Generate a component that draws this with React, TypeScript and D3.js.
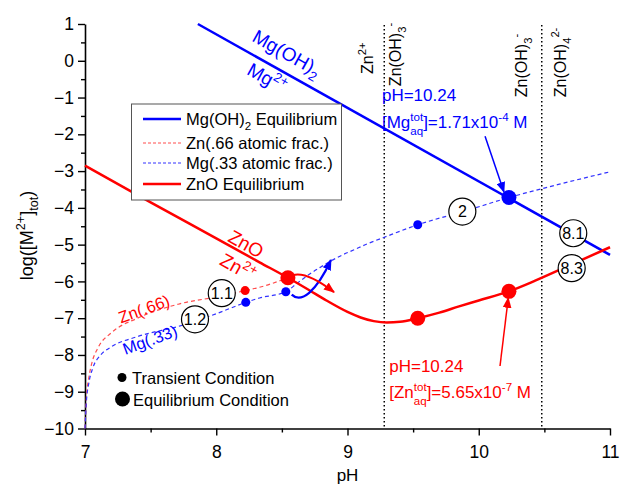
import React, { useRef, useEffect } from "react";
import * as d3 from "d3";

// all curves are [pH, log([M2+]tot)] pairs
const mgOH2Equilibrium = [
  [7.86, 1.0],
  [11.0, -5.28],
];

const znoEquilibrium = [
  [7.0, -2.85], [7.5, -3.85], [8.0, -4.83], [8.33, -5.48], [8.546, -5.9],
  [8.7, -6.22], [8.84, -6.52], [9.0, -6.83], [9.1, -6.98], [9.2, -7.08],
  [9.3, -7.12], [9.4, -7.1], [9.535, -7.0], [9.7, -6.85], [9.85, -6.68],
  [10.0, -6.52], [10.23, -6.27], [10.43, -5.98], [10.7, -5.55], [11.0, -5.07],
];

const znFraction = [
  [7.0, -10.0], [7.01, -9.2], [7.03, -8.6], [7.05, -8.25], [7.1, -7.8],
  [7.2, -7.4], [7.4, -7.0], [7.71, -6.62], [8.0, -6.42], [8.22, -6.25],
  [8.33, -6.16], [8.546, -5.9],
];

const mgFraction = [
  [7.0, -10.0], [7.01, -9.3], [7.03, -8.75], [7.06, -8.35], [7.12, -8.0],
  [7.2, -7.78], [7.4, -7.5], [7.735, -7.2], [8.0, -6.88], [8.225, -6.57],
  [8.33, -6.45], [8.53, -6.28], [8.62, -6.04], [8.72, -5.78], [8.8, -5.6],
  [8.87, -5.45], [8.95, -5.3], [9.05, -5.14], [9.15, -4.98], [9.28, -4.8],
  [9.535, -4.46], [9.9, -4.08], [10.23, -3.72], [10.6, -3.37], [11.0, -3.02],
];

const transientZn = [[8.22, -6.25]];
const transientMg = [[8.225, -6.57], [8.53, -6.28], [9.535, -4.46]];
const equilibriumZn = [[8.546, -5.9], [9.535, -7.0], [10.23, -6.27]];
const equilibriumMg = [[10.23, -3.72]];

const speciesBoundaries = [9.28, 10.48];

const xTicks = [7, 8, 9, 10, 11];
const xMinorTicks = [7.5, 8.5, 9.5, 10.5];
const yTicks = [1, 0, -1, -2, -3, -4, -5, -6, -7, -8, -9, -10];
const yMinorTicks = [0.5, -0.5, -1.5, -2.5, -3.5, -4.5, -5.5, -6.5, -7.5, -8.5, -9.5];

const stepLabels = [
  { label: "1.1", at: [8.042, -6.32] },
  { label: "1.2", at: [7.838, -7.03] },
  { label: "2", at: [9.875, -4.1] },
  { label: "8.1", at: [10.72, -4.69] },
  { label: "8.3", at: [10.708, -5.64] },
];

const FONT = "'Liberation Sans', Arial, Helvetica, sans-serif";
const BLUE = "#0000ff";
const RED = "#ff0000";

type Part = [string, string?, number?];

const addRich = (text, parts: Part[], size: number, ratio = 0.7) => {
  let shift = 0;
  parts.forEach(([t, kind, dx]) => {
    const target =
      kind === "sup" ? -0.42 * size : kind === "sub" ? (dx ? 0.42 : 0.3) * size : 0;
    const ts = text
      .append("tspan")
      .attr("dy", target - shift)
      .attr("font-size", kind ? size * ratio : size)
      .text(t);
    if (dx) ts.attr("dx", dx);
    shift = target;
  });
};

const Chart = () => {
  const svgRef = useRef(null);

  useEffect(() => {
    const svg = d3.select(svgRef.current);
    svg.selectAll("*").remove();
    svg.attr("font-family", FONT);

    const x = d3.scaleLinear().domain([7, 11]).range([85, 610]);
    const y = d3.scaleLinear().domain([-10, 1]).range([428.5, 24]);

    const defs = svg.append("defs");
    [["arrowBlue", BLUE], ["arrowRed", RED]].forEach(([id, c]) => {
      defs
        .append("marker")
        .attr("id", id)
        .attr("viewBox", "0 0 10 8")
        .attr("refX", 9)
        .attr("refY", 4)
        .attr("markerWidth", 11)
        .attr("markerHeight", 9)
        .attr("markerUnits", "userSpaceOnUse")
        .attr("orient", "auto")
        .append("path")
        .attr("d", "M0,0 L10,4 L0,8 Z")
        .attr("fill", c);
    });

    // axes
    const xAxis = svg
      .append("g")
      .attr("transform", `translate(0,${y(-10)})`)
      .call(d3.axisBottom(x).tickValues(xTicks).tickSize(7).tickSizeOuter(0).tickPadding(10).tickFormat(d3.format("d")));
    svg
      .append("g")
      .attr("transform", `translate(0,${y(-10)})`)
      .call(d3.axisBottom(x).tickValues(xMinorTicks).tickSize(4).tickSizeOuter(0).tickFormat(() => ""))
      .select(".domain")
      .remove();
    const yAxis = svg
      .append("g")
      .attr("transform", `translate(${x(7)},0)`)
      .call(d3.axisLeft(y).tickValues(yTicks).tickSize(7).tickSizeOuter(0).tickPadding(4).tickFormat(d3.format("d")));
    svg
      .append("g")
      .attr("transform", `translate(${x(7)},0)`)
      .call(d3.axisLeft(y).tickValues(yMinorTicks).tickSize(4).tickSizeOuter(0).tickFormat(() => ""))
      .select(".domain")
      .remove();
    [xAxis, yAxis].forEach((a) => {
      a.select(".domain").attr("stroke-width", 1.6);
      a.selectAll(".tick text").attr("font-size", 17.5).attr("font-family", FONT).attr("fill", "#000");
    });
    svg.selectAll(".tick line").attr("stroke-width", 1.4);

    // axis titles
    svg
      .append("text")
      .attr("x", x(9))
      .attr("y", 481)
      .attr("text-anchor", "middle")
      .attr("font-size", 17)
      .text("pH");
    const yTitle = svg
      .append("text")
      .attr("transform", `translate(33,${y(-4.75)}) rotate(-90)`)
      .attr("text-anchor", "middle")
      .attr("font-size", 18);
    addRich(yTitle, [["log([M"], ["2+", "sup"], ["]"], ["tot", "sub"], [")"]], 18);

    // species boundaries
    speciesBoundaries.forEach((b) => {
      svg
        .append("line")
        .attr("x1", x(b))
        .attr("x2", x(b))
        .attr("y1", y(0.97))
        .attr("y2", y(-10))
        .attr("stroke", "#000")
        .attr("stroke-width", 1.5)
        .attr("stroke-dasharray", "1.5,2.5");
    });

    const line = d3
      .line()
      .x((d) => x(d[0]))
      .y((d) => y(d[1]))
      .curve(d3.curveMonotoneX);

    // dashed composition curves
    svg.append("path").datum(znFraction).attr("d", line).attr("fill", "none")
      .attr("stroke", "#ff4d4d").attr("stroke-width", 1.2).attr("stroke-dasharray", "4,3");
    svg.append("path").datum(mgFraction).attr("d", line).attr("fill", "none")
      .attr("stroke", "#3333ff").attr("stroke-width", 1.2).attr("stroke-dasharray", "4,3");

    // equilibrium curves
    svg.append("path").datum(mgOH2Equilibrium).attr("d", line).attr("fill", "none")
      .attr("stroke", BLUE).attr("stroke-width", 2.5);
    svg.append("path").datum(znoEquilibrium).attr("d", line).attr("fill", "none")
      .attr("stroke", RED).attr("stroke-width", 2.5);

    // step circles
    stepLabels.forEach((s) => {
      const g = svg.append("g").attr("transform", `translate(${x(s.at[0])},${y(s.at[1])})`);
      g.append("circle").attr("r", 13.5).attr("fill", "#fff").attr("stroke", "#000").attr("stroke-width", 1.2);
      g.append("text").attr("text-anchor", "middle").attr("dy", "0.36em").attr("font-size", 16).text(s.label);
    });

    // points
    const dots = (data, r, c) =>
      svg.append("g").selectAll("circle").data(data).join("circle")
        .attr("cx", (d) => x(d[0])).attr("cy", (d) => y(d[1])).attr("r", r).attr("fill", c);
    dots(transientZn, 4.5, RED);
    dots(transientMg, 4.5, BLUE);
    dots(equilibriumZn, 7.5, RED);
    dots(equilibriumMg, 7.5, BLUE);

    // arrows
    const arrow = (pts, c, id, w) => {
      const p = d3.path();
      p.moveTo(x(pts[0][0]), y(pts[0][1]));
      if (pts.length === 4)
        p.bezierCurveTo(x(pts[1][0]), y(pts[1][1]), x(pts[2][0]), y(pts[2][1]), x(pts[3][0]), y(pts[3][1]));
      else p.lineTo(x(pts[1][0]), y(pts[1][1]));
      svg.append("path").attr("d", p.toString()).attr("fill", "none").attr("stroke", c)
        .attr("stroke-width", w).attr("marker-end", `url(#${id})`);
    };
    arrow([[10.048, -2.05], [10.192, -3.57]], BLUE, "arrowBlue", 1.5);
    arrow([[10.162, -8.3], [10.225, -6.45]], RED, "arrowRed", 1.5);
    arrow([[8.575, -6.36], [8.645, -6.6], [8.76, -6.3], [8.874, -5.42]], BLUE, "arrowBlue", 2.2);
    arrow([[8.585, -5.83], [8.661, -5.75], [8.775, -5.96], [8.897, -6.29]], RED, "arrowRed", 2.2);

    // labels along curves
    const angle = (Math.atan2(y(-5.28) - y(1), x(11) - x(7.86)) * 180) / Math.PI;
    const curveLabel = (at, rot, parts, size, c) => {
      const t = svg.append("text")
        .attr("transform", `translate(${x(at[0])},${y(at[1])}) rotate(${rot})`)
        .attr("text-anchor", "middle").attr("y", size * 0.35).attr("fill", c).attr("font-size", size);
      addRich(t, parts, size);
    };
    curveLabel([8.539, 0.21], angle, [["Mg(OH)"], ["2", "sub"]], 19, BLUE);
    curveLabel([8.387, -0.47], angle, [["Mg"], ["2+", "sup"]], 19, BLUE);
    curveLabel([8.227, -4.98], angle, [["ZnO"]], 19, RED);
    curveLabel([8.166, -5.62], angle, [["Zn"], ["2+", "sup"]], 19, RED);
    curveLabel([7.45, -6.75], -20, [["Zn(.66)"]], 16.5, RED);
    curveLabel([7.495, -7.59], -20, [["Mg(.33)"]], 16.5, BLUE);

    // species labels at top
    const speciesLabel = (at, parts) => {
      const t = svg.append("text")
        .attr("transform", `translate(${x(at[0])},${y(at[1])}) rotate(-90)`)
        .attr("font-size", 16).attr("fill", "#000");
      addRich(t, parts, 16);
    };
    speciesLabel([9.194, -0.36], [["Zn"], ["2+", "sup"]]);
    speciesLabel([9.408, -0.69], [["Zn(OH)"], ["3", "sub"], ["-", "sup"]]);
    speciesLabel([10.368, -0.99], [["Zn(OH)"], ["3", "sub"], ["-", "sup"]]);
    speciesLabel([10.665, -0.99], [["Zn(OH)"], ["4", "sub"], ["2-", "sup"]]);

    // concentration annotations
    const note = (at, parts, c) => {
      const t = svg.append("text").attr("x", x(at[0])).attr("y", y(at[1]))
        .attr("fill", c).attr("font-size", 17);
      addRich(t, parts, 17, 0.68);
    };
    const stackDx = -1.112 * 0.68 * 17;
    note([9.2625, -1.09], [["pH=10.24"]], BLUE);
    note([9.2625, -1.83], [["[Mg"], ["tot", "sup"], ["aq", "sub", stackDx], ["]=1.71x10"], ["-4", "sup"], [" M"]], BLUE);
    note([9.318, -8.46], [["pH=10.24"]], RED);
    note([9.318, -9.17], [["[Zn"], ["tot", "sup"], ["aq", "sub", stackDx], ["]=5.65x10"], ["-7", "sup"], [" M"]], RED);

    // legend
    const lg = svg.append("g");
    lg.append("rect").attr("x", 131.5).attr("y", 104).attr("width", 210).attr("height", 96)
      .attr("fill", "#fff").attr("stroke", "#555").attr("stroke-width", 1);
    const entries = [
      { parts: [["Mg(OH)"], ["2", "sub"], [" Equilibrium"]], c: BLUE, dash: null, w: 2.5, yy: 119 },
      { parts: [["Zn(.66 atomic frac.)"]], c: "#ff4d4d", dash: "3,2", w: 1, yy: 143 },
      { parts: [["Mg(.33 atomic frac.)"]], c: "#3333ff", dash: "3,2", w: 1, yy: 163 },
      { parts: [["ZnO Equilibrium"]], c: RED, dash: null, w: 2.5, yy: 184 },
    ];
    entries.forEach((e) => {
      lg.append("line").attr("x1", 143).attr("x2", 181).attr("y1", e.yy).attr("y2", e.yy)
        .attr("stroke", e.c).attr("stroke-width", e.w).attr("stroke-dasharray", e.dash);
      const t = lg.append("text").attr("x", 186).attr("y", e.yy + 5.8).attr("font-size", 16.5);
      addRich(t, e.parts as Part[], 16.5);
    });

    // marker size legend
    svg.append("circle").attr("cx", 122).attr("cy", 377.5).attr("r", 4.5).attr("fill", "#000");
    svg.append("text").attr("x", 132).attr("y", 384).attr("font-size", 16.5).text("Transient Condition");
    svg.append("circle").attr("cx", 122.5).attr("cy", 399).attr("r", 7.5).attr("fill", "#000");
    svg.append("text").attr("x", 133).attr("y", 406).attr("font-size", 16.5).text("Equilibrium Condition");
  }, []);

  return (
    <svg
      ref={svgRef}
      width={620}
      height={486}
      style={{ position: "absolute", left: 0, top: 0, background: "#fff" }}
    />
  );
};

export default function App() {
  return <Chart />;
}
